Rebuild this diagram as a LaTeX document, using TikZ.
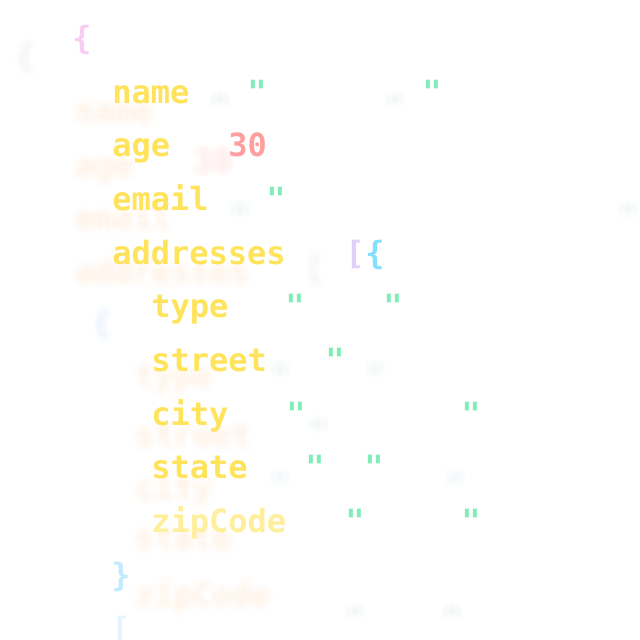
\documentclass[tikz,border=0pt]{standalone}
\usepackage{fontspec}
\setmonofont{DejaVu Sans Mono}
\definecolor{keyc}{HTML}{FFE35A}
\definecolor{keyfade}{HTML}{FFEE9A}
\definecolor{quotec}{HTML}{80EDB8}
\definecolor{numc}{HTML}{FF9E9E}
\definecolor{bracepink}{HTML}{F9CDF3}
\definecolor{brackpurple}{HTML}{E1CFFB}
\definecolor{braceblue}{HTML}{84E0FF}
\definecolor{bracelight}{HTML}{C2EAFF}
\definecolor{bracefaint}{HTML}{E3F4FF}
\tikzset{
  code/.style={inner sep=0pt, anchor=base west, font=\ttfamily\bfseries\fontsize{24}{28}\selectfont},
  codec/.style={code, anchor=base},
  ghostc/.style={code, opacity=0.011},
  ghostm/.style={codec, opacity=0.011},
}
\newcommand{\gtxt}[4]{%
  \foreach \dx/\dy in {-4/-4,0/-4,4/-4,-4/0,0/0,4/0,-4/4,0/4,4/4,-2/-2,2/2,-2/2,2/-2}{%
    \node[ghostc, text=#3] at (#1+\dx,#2+\dy) {#4};}}
\newcommand{\gmid}[4]{%
  \foreach \dx/\dy in {-4/-4,0/-4,4/-4,-4/0,0/0,4/0,-4/4,0/4,4/4,-2/-2,2/2,-2/2,2/-2}{%
    \node[ghostm, text=#3] at (#1+\dx,#2+\dy) {#4};}}
\begin{document}
\begin{tikzpicture}[x=0.75pt,y=-0.75pt]
\useasboundingbox (0,0) rectangle (640,640);
\fill[white] (0,0) rectangle (640,640);
% ghost (blurred) layer
\gmid{25}{67}{bracepink}{\{}
\gtxt{75}{122}{keyc}{name}
\gtxt{75}{176}{keyc}{age}
\gtxt{75}{229}{keyc}{email}
\gtxt{75}{283}{keyc}{addresses}
\gmid{315}{279}{brackpurple}{[}
\gmid{102}{334}{braceblue}{\{}
\gtxt{135}{387}{keyc}{type}
\gtxt{135}{446}{keyc}{street}
\gtxt{135}{499}{keyc}{city}
\gtxt{135}{549}{keyc}{state}
\gtxt{135}{606}{keyc}{zipCode}
\gtxt{193}{172}{numc}{30}
\gmid{220}{118}{quotec}{"}
\gmid{395}{118}{quotec}{"}
\gmid{240}{228}{quotec}{"}
\gmid{628}{228}{quotec}{"}
\gmid{280}{388}{quotec}{"}
\gmid{375}{388}{quotec}{"}
\gmid{318}{443}{quotec}{"}
\gmid{455}{496}{quotec}{"}
\gmid{280}{496}{quotec}{"}
\gmid{355}{630}{quotec}{"}
\gmid{452}{630}{quotec}{"}
% main layer
\node[codec, text=bracepink] (ob) at (82,49) {\{};
\node[code, text=keyc] (kname) at (112,103) {name};
\node[code, text=keyc] (kage) at (112,156.5) {age};
\node[code, text=keyc] (kemail) at (112,210) {email};
\node[code, text=keyc] (kaddr) at (112,264) {addresses};
\node[code, text=keyc] (ktype) at (151,317.5) {type};
\node[code, text=keyc] (kstreet) at (151,371) {street};
\node[code, text=keyc] (kcity) at (151,425) {city};
\node[code, text=keyc] (kstate) at (151,478.5) {state};
\node[code, text=keyfade] (kzip) at (151,532) {zipCode};
\node[codec, text=bracelight] (cb) at (121,586) {\}};
\node[codec, text=bracefaint] (ob2) at (121,640) {[};
\node[code, text=numc] (vage) at (228,156.5) {30};
\node[codec, text=brackpurple] (arr) at (355,264) {[};
\node[codec, text=braceblue] (ob1) at (375,264) {\{};
\node[codec, text=quotec] (q1) at (257,103) {"};
\node[codec, text=quotec] (q2) at (432,103) {"};
\node[codec, text=quotec] (q3) at (276,210) {"};
\node[codec, text=quotec] (q4) at (295,317.5) {"};
\node[codec, text=quotec] (q5) at (393,317.5) {"};
\node[codec, text=quotec] (q6) at (335,371) {"};
\node[codec, text=quotec] (q7) at (296,425) {"};
\node[codec, text=quotec] (q8) at (471,425) {"};
\node[codec, text=quotec] (q9) at (315,478.5) {"};
\node[codec, text=quotec] (q10) at (374,478.5) {"};
\node[codec, text=quotec] (q11) at (355,532) {"};
\node[codec, text=quotec] (q12) at (471,532) {"};
\end{tikzpicture}
\end{document}
